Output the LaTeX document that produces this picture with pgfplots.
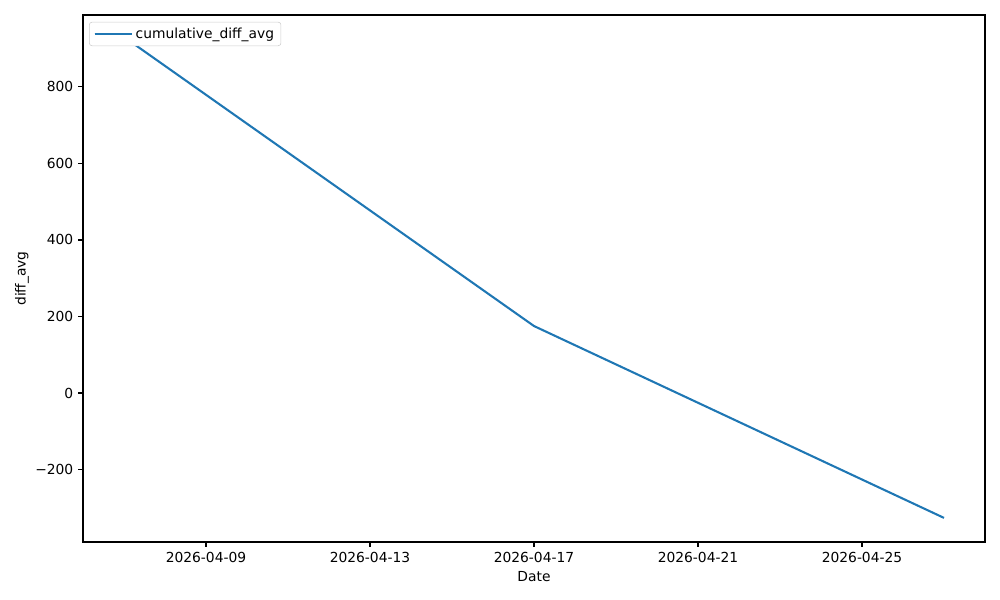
\documentclass[border=0pt]{standalone}
\usepackage{fontspec}
\setmainfont{DejaVu Sans}
\usepackage{pgfplots}
\pgfplotsset{compat=1.18}
\definecolor{mplblue}{HTML}{1F77B4}
\begin{document}
\begin{tikzpicture}
\begin{axis}[
  at={(0,0)}, anchor=south west,
  scale only axis, width=9.02in, height=5.27in,
  xmin=-1, xmax=21, ymin=-389.5, ymax=988,
  xtick={2,6,10,14,18},
  xticklabels={2026-04-09,2026-04-13,2026-04-17,2026-04-21,2026-04-25},
  ytick={-200,0,200,400,600,800},
  yticklabels={−200,0,200,400,600,800},
  tick align=outside, tick pos=left,
  major tick length=3.5pt,
  every tick/.style={black, line width=0.8pt},
  axis line style={line width=0.8pt},
  tick label style={font=\fontsize{10}{12}\selectfont},
  label style={font=\fontsize{10}{12}\selectfont},
  xlabel={Date}, ylabel={diff\_avg},
  ylabel style={at={(axis description cs:-0.0676,0.5)}, anchor=center},
  xlabel style={at={(axis description cs:0.5,-0.0664)}, anchor=center},
  /pgf/number format/assume math mode=true,
  legend style={at={(0.0067,0.987)}, anchor=north west, draw=black!20, rounded corners=2pt,
    font=\fontsize{10}{12}\selectfont, inner xsep=3pt, inner ysep=2pt},
  legend cell align=left,
  legend image code/.code={\draw[#1] (0pt,0pt) -- (21pt,0pt); \path (0pt,0pt) -- (27pt,0pt);},
]
\addplot[mplblue, line width=1.5pt] coordinates {(0,930.5) (10,175) (20,-326.5)};
\legend{cumulative\_diff\_avg}
\end{axis}
\path (-0.83in,-0.58in) rectangle (9.17in,5.42in);
\end{tikzpicture}
\end{document}
